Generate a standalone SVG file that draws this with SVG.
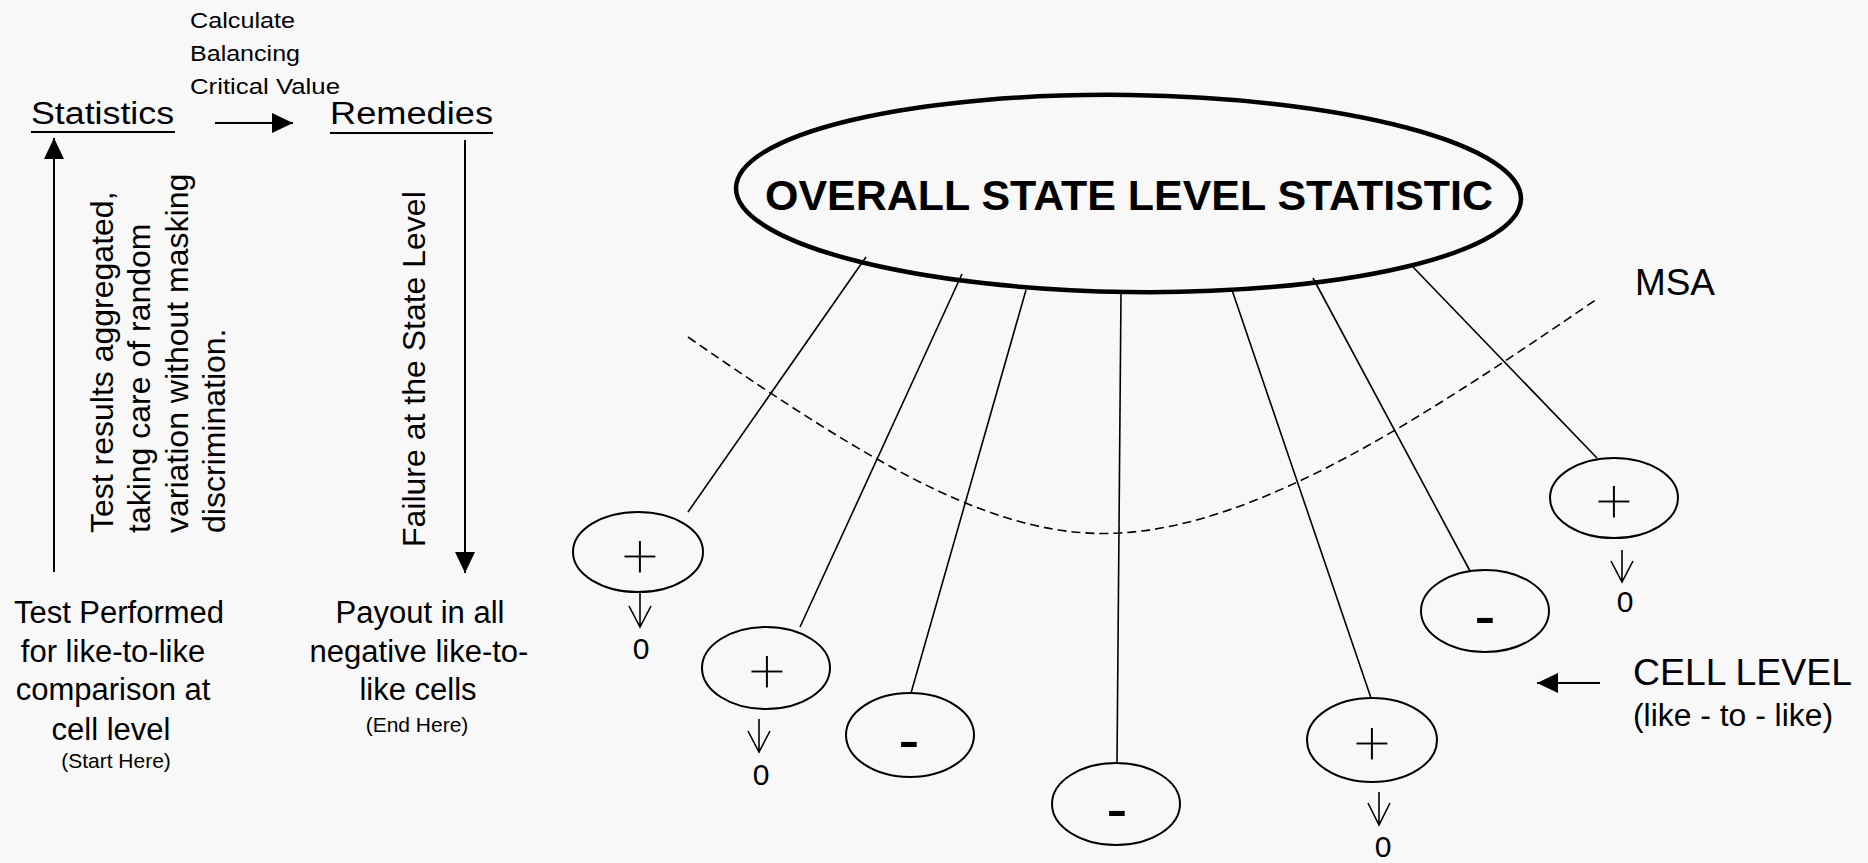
<svg xmlns="http://www.w3.org/2000/svg" width="1868" height="863" viewBox="0 0 1868 863">
<style>
text{font-family:"Liberation Sans",Arial,sans-serif;fill:#000}
.t31{font-size:31px}
.t22{font-size:22px}
.t21{font-size:21px}
.rot{font-size:32px}
.zero{font-size:30px;text-anchor:middle}
.plus{font-size:70px;text-anchor:middle;stroke:#f8f8f8;stroke-width:3px}
.minus{font-size:64px;text-anchor:middle}
.mid{text-anchor:middle}
.cell{fill:none;stroke:#000;stroke-width:2}
.ln{fill:none;stroke:#000;stroke-width:1.6}
.arr{fill:none;stroke:#000;stroke-width:2}
</style>
<defs>
<marker id="ah" viewBox="0 0 21 20" refX="21" refY="10" markerWidth="21" markerHeight="20" markerUnits="userSpaceOnUse" orient="auto"><path d="M0,0 L21,10 L0,20 z" fill="#000"/></marker>
</defs>
<rect x="0" y="0" width="1868" height="863" fill="#f8f8f8"/>

<g id="left-flow">
<text class="t22" x="190" y="28" textLength="105" lengthAdjust="spacingAndGlyphs">Calculate</text>
<text class="t22" x="190" y="61" textLength="110" lengthAdjust="spacingAndGlyphs">Balancing</text>
<text class="t22" x="190" y="94" textLength="150" lengthAdjust="spacingAndGlyphs">Critical Value</text>
<g id="statistics"><text class="t31" x="31" y="124" textLength="143" lengthAdjust="spacingAndGlyphs">Statistics</text><line x1="31" y1="132" x2="175" y2="132" stroke="#000" stroke-width="2"/></g>
<g id="remedies"><text class="t31" x="330" y="124" textLength="163" lengthAdjust="spacingAndGlyphs">Remedies</text><line x1="330" y1="133" x2="493" y2="133" stroke="#000" stroke-width="2"/></g>
<g id="aggregated-label">
<text class="rot" transform="translate(113,533) rotate(-90)">Test results aggregated,</text>
<text class="rot" transform="translate(150,533) rotate(-90)">taking care of random</text>
<text class="rot" transform="translate(188,533) rotate(-90)">variation without masking</text>
<text class="rot" transform="translate(225,533) rotate(-90)">discrimination.</text>
</g>
<g id="failure-label"><text class="rot" transform="translate(425,547) rotate(-90)">Failure at the State Level</text></g>
<g id="start">
<text class="t31 mid" x="119" y="623">Test Performed</text>
<text class="t31 mid" x="113" y="662">for like-to-like</text>
<text class="t31 mid" x="113" y="700">comparison at</text>
<text class="t31 mid" x="111" y="740">cell level</text>
<text class="t21 mid" x="116" y="768">(Start Here)</text>
</g>
<g id="end">
<text class="t31 mid" x="420" y="623">Payout in all</text>
<text class="t31 mid" x="419" y="662">negative like-to-</text>
<text class="t31 mid" x="418" y="700">like cells</text>
<text class="t21 mid" x="417" y="732">(End Here)</text>
</g>
</g>

<g id="connectors">
<line class="arr" x1="54" y1="572" x2="54" y2="138" marker-end="url(#ah)"/>
<line class="arr" x1="465" y1="140" x2="465" y2="573" marker-end="url(#ah)"/>
<line class="arr" x1="215" y1="123" x2="293" y2="123" marker-end="url(#ah)"/>
<line class="arr" x1="1600" y1="683" x2="1537" y2="683" marker-end="url(#ah)"/>
<line class="ln" x1="866" y1="257" x2="688" y2="512"/>
<line class="ln" x1="962" y1="274" x2="800" y2="627"/>
<line class="ln" x1="1026" y1="290" x2="911" y2="693"/>
<line class="ln" x1="1121" y1="293" x2="1117" y2="763"/>
<line class="ln" x1="1232" y1="290" x2="1371" y2="698"/>
<line class="ln" x1="1313" y1="278" x2="1470" y2="571"/>
<line class="ln" x1="1413" y1="267" x2="1597" y2="458"/>
<path class="ln" d="M640,593 V627 M629,606 L640,627 L651,606"/>
<path class="ln" d="M759,719 V752 M748,731 L759,752 L770,731"/>
<path class="ln" d="M1379,792 V825 M1368,803 L1379,825 L1390,803"/>
<path class="ln" d="M1622,550 V582 M1611,561 L1622,582 L1633,561"/>
</g>

<g id="msa">
<path d="M688,337 C880,470 1000,540 1120,533 C1260,525 1420,420 1597,299" fill="none" stroke="#000" stroke-width="1.6" stroke-dasharray="9 5"/>
<text x="1635" y="295" style="font-size:36px" textLength="80" lengthAdjust="spacingAndGlyphs">MSA</text>
</g>

<g id="state-statistic">
<ellipse cx="1128.5" cy="193.5" rx="392.5" ry="98.5" fill="none" stroke="#000" stroke-width="4.5" transform="rotate(0.8 1128.5 193.5)"/>
<text x="1129" y="210" text-anchor="middle" style="font-size:42px;font-weight:bold" textLength="728" lengthAdjust="spacingAndGlyphs">OVERALL STATE LEVEL STATISTIC</text>
</g>

<g id="cell1"><ellipse class="cell" cx="638" cy="552" rx="65" ry="40"/><text class="plus" x="640" y="580">+</text><text class="zero" x="641" y="659">0</text></g>
<g id="cell2"><ellipse class="cell" cx="766" cy="668" rx="64" ry="41"/><text class="plus" x="767" y="695">+</text><text class="zero" x="761" y="785">0</text></g>
<g id="cell3"><ellipse class="cell" cx="910" cy="735" rx="64" ry="42"/><text class="minus" x="909" y="762">-</text></g>
<g id="cell4"><ellipse class="cell" cx="1116" cy="804" rx="64" ry="41"/><text class="minus" x="1117" y="831">-</text></g>
<g id="cell5"><ellipse class="cell" cx="1372" cy="740" rx="65" ry="42"/><text class="plus" x="1372" y="767">+</text><text class="zero" x="1383" y="857">0</text></g>
<g id="cell6"><ellipse class="cell" cx="1485" cy="611" rx="64" ry="41"/><text class="minus" x="1485" y="638">-</text></g>
<g id="cell7"><ellipse class="cell" cx="1614" cy="498" rx="64" ry="40"/><text class="plus" x="1614" y="525">+</text><text class="zero" x="1625" y="612">0</text></g>

<g id="cell-level">
<text x="1633" y="685" style="font-size:37px" textLength="219" lengthAdjust="spacingAndGlyphs">CELL LEVEL</text>
<text x="1633" y="726" style="font-size:31px" textLength="200" lengthAdjust="spacingAndGlyphs">(like - to - like)</text>
</g>
</svg>
